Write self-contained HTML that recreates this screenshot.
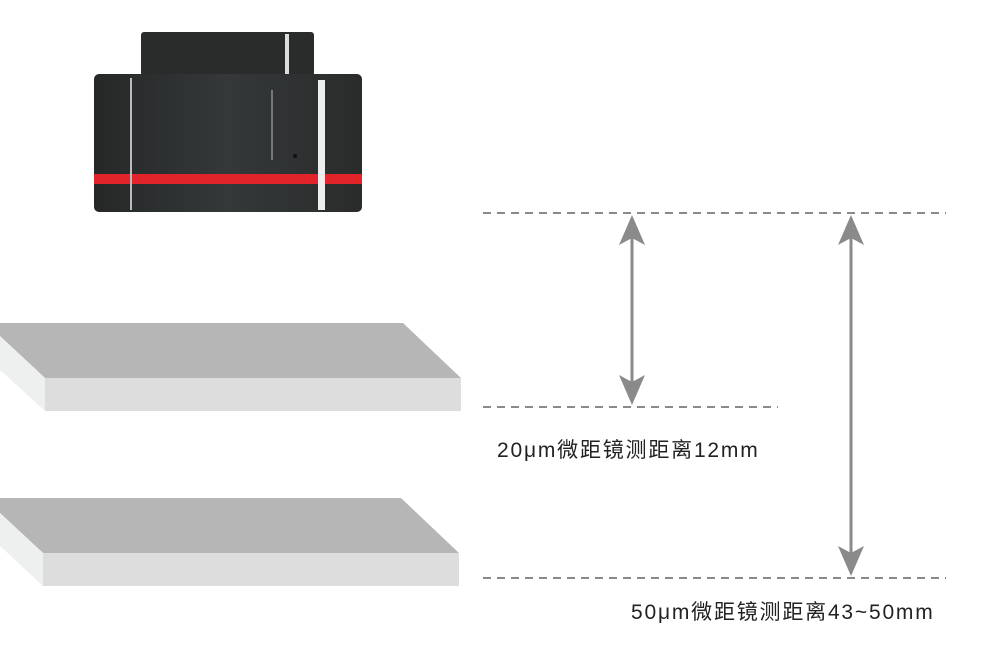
<!DOCTYPE html>
<html><head><meta charset="utf-8"><style>
body{margin:0;width:991px;height:647px;background:#fff;overflow:hidden;position:relative;font-family:"Liberation Sans","Noto Sans CJK SC",sans-serif}
.t{position:absolute;font-size:21px;letter-spacing:1.8px;color:#222;white-space:nowrap;line-height:26px}
</style></head><body>
<svg width="991" height="647" style="position:absolute;left:0;top:0">
<defs>
<linearGradient id="cam" x1="0" x2="1">
<stop offset="0" stop-color="#262828"/><stop offset=".5" stop-color="#343838"/><stop offset="1" stop-color="#2a2c2c"/>
</linearGradient>
</defs>
<rect x="141" y="32" width="173" height="44" rx="3" fill="#2a2c2c"/>
<rect x="94" y="74" width="268" height="138" rx="5" fill="url(#cam)"/>
<rect x="94" y="174" width="268" height="10" fill="#e0242a"/>
<rect x="130" y="78" width="2" height="132" fill="#bbb"/>
<rect x="318" y="80" width="7" height="130" fill="#eee"/>
<rect x="285" y="34" width="4" height="40" fill="#ddd"/>
<rect x="271" y="90" width="2" height="70" fill="#777"/>
<circle cx="295" cy="156" r="2" fill="#111"/>
<polygon points="0,323 403,323 461,378 45,378 0,336" fill="#b5b6b5"/>
<polygon points="45,378 461,378 461,411 45,411" fill="#dcdddc"/>
<polygon points="0,336 45,378 45,411 0,370" fill="#eef0ef"/>
<polygon points="0,498 401,498 459,553 43,553 0,513" fill="#b5b6b5"/>
<polygon points="43,553 459,553 459,586 43,586" fill="#dcdddc"/>
<polygon points="0,513 43,553 43,586 0,546" fill="#eef0ef"/>
<g stroke="#8a8a8a" stroke-width="2" stroke-dasharray="8,6">
<line x1="483" y1="213" x2="946" y2="213"/>
<line x1="483" y1="407" x2="778" y2="407"/>
<line x1="483" y1="578" x2="946" y2="578"/>
</g>
<g stroke="#8a8a8a" stroke-width="3">
<line x1="632" y1="235" x2="632" y2="385"/>
<line x1="851" y1="235" x2="851" y2="556"/>
</g>
<g fill="#8a8a8a">
<polygon points="632,215 619,245 632,238 645,245"/>
<polygon points="632,405 619,375 632,382 645,375"/>
<polygon points="851,215 838,245 851,238 864,245"/>
<polygon points="851,576 838,546 851,553 864,546"/>
</g>
</svg>
<div class="t" style="left:497px;top:438px">20μm微距镜测距离12mm</div>
<div class="t" style="left:631px;top:600px">50μm微距镜测距离43~50mm</div>
</body></html>
